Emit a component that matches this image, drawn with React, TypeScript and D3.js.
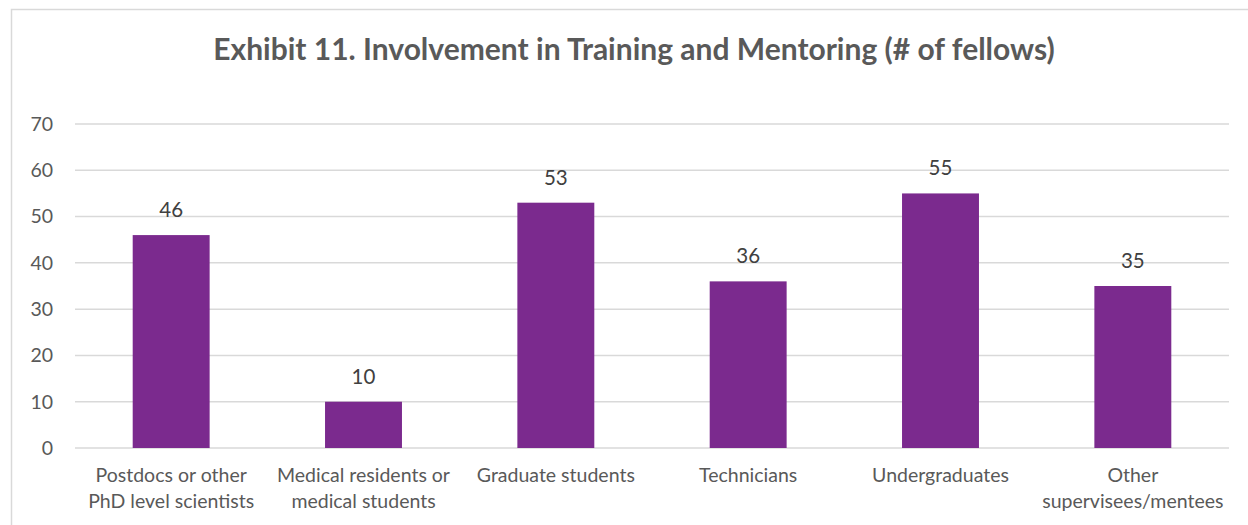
import React from "react";
import * as d3 from "d3";

const categories: string[][] = [
  ["Postdocs or other", "PhD level scientists"],
  ["Medical residents or", "medical students"],
  ["Graduate students"],
  ["Technicians"],
  ["Undergraduates"],
  ["Other", "supervisees/mentees"],
];
const values: number[] = [46, 10, 53, 36, 55, 35];
const yTicks: number[] = [0, 10, 20, 30, 40, 50, 60, 70];
const title = "Exhibit 11. Involvement in Training and Mentoring (# of fellows)";

const W = 1248;
const H = 525;
const FONT = "Lato, 'Noto Sans', sans-serif";

export default function App() {
  const left = 75;
  const right = 1229;
  const top = 124;
  const bottom = 448;
  const keys = categories.map((_, i) => String(i));
  const x = d3.scaleBand<string>().domain(keys).range([left, right]).paddingInner(0.6).paddingOuter(0.3);
  const y = d3.scaleLinear().domain([0, 70]).range([bottom, top]);

  return (
    <svg width={W} height={H} style={{ position: "absolute", left: 0, top: 0, background: "#fff" }}>
      <rect x={11.5} y={9.5} width={1260} height={540} fill="#fff" stroke="#d9d9d9" strokeWidth={1.5} />
      <text x={634} y={60} textAnchor="middle" fontFamily={FONT} fontWeight="bold" fontSize={30} fill="#595959">
        {title}
      </text>
      {yTicks.map((t) => (
        <g key={t}>
          <line x1={left} x2={right} y1={y(t)} y2={y(t)} stroke="#d9d9d9" strokeWidth={1.5} />
          <text x={53} y={y(t)} dy="0.35em" textAnchor="end" fontFamily={FONT} fontSize={19.5} fill="#595959">
            {t}
          </text>
        </g>
      ))}
      {values.map((v, i) => {
        const bx = x(String(i))!;
        const bw = x.bandwidth();
        return (
          <g key={i}>
            <rect x={bx} y={y(v)} width={bw} height={y(0) - y(v)} fill="#7B2A8E" />
            <text x={bx + bw / 2} y={y(v) - 18} textAnchor="middle" fontFamily={FONT} fontSize={20.5} fill="#404040">
              {v}
            </text>
          </g>
        );
      })}
      {categories.map((lines, i) => {
        const cx = x(String(i))! + x.bandwidth() / 2;
        return (
          <text key={i} textAnchor="middle" fontFamily={FONT} fontSize={19.5} fill="#595959">
            {lines.map((l, j) => (
              <tspan key={j} x={cx} y={482 + j * 26}>
                {l}
              </tspan>
            ))}
          </text>
        );
      })}
    </svg>
  );
}
